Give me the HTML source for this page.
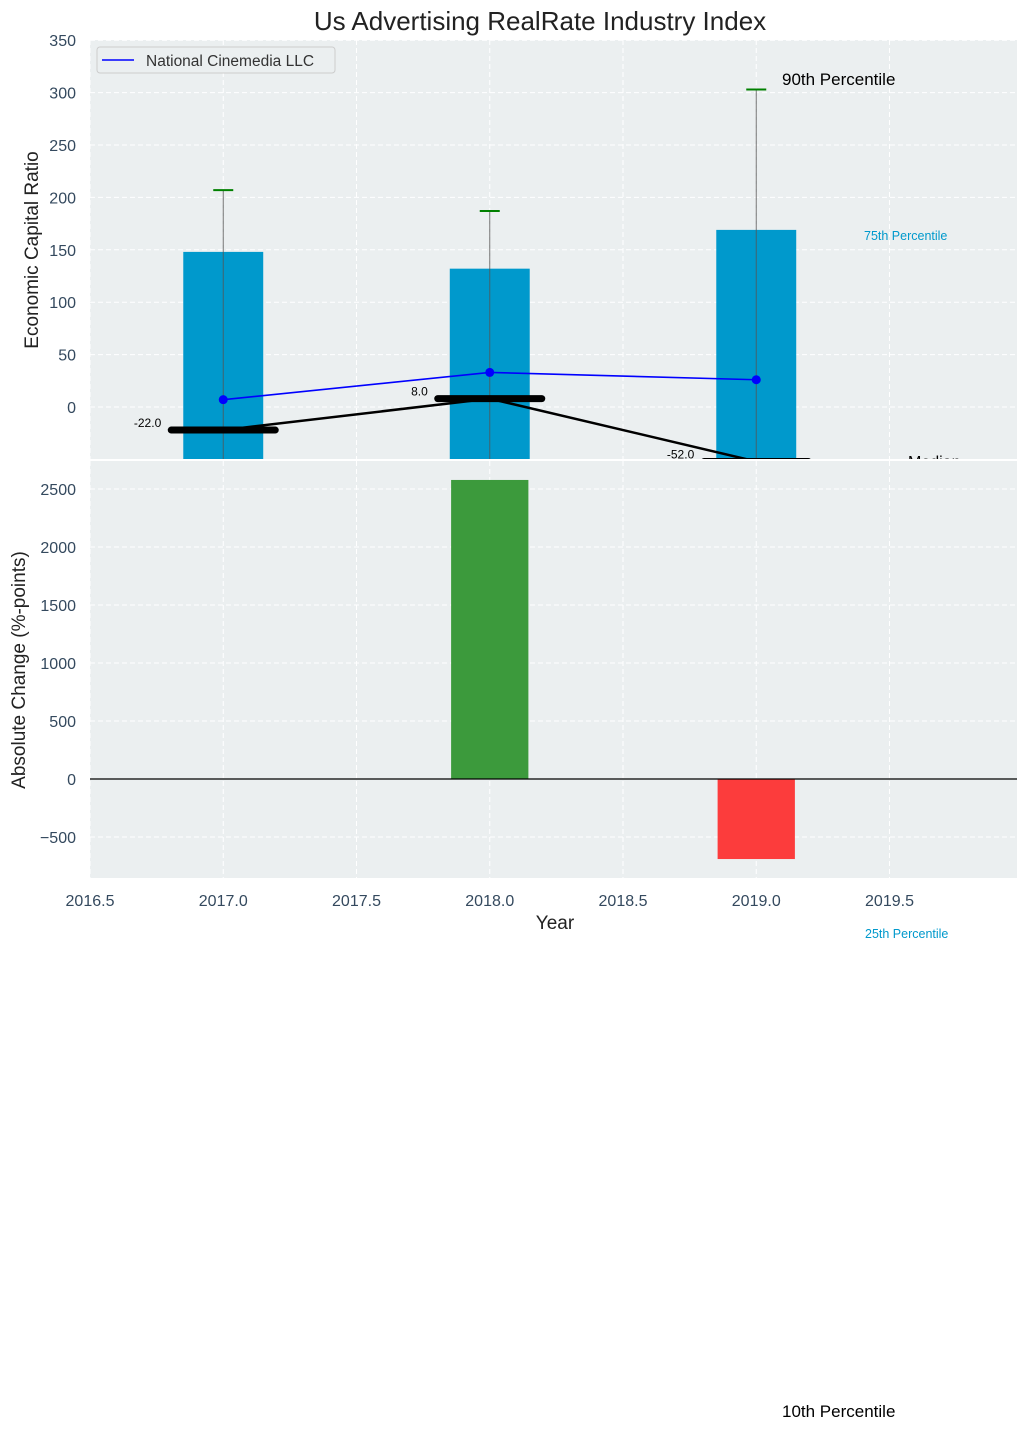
<!DOCTYPE html>
<html><head><meta charset="utf-8"><style>
body{margin:0;background:#fff}
svg{display:block;font-family:"Liberation Sans","DejaVu Sans",sans-serif}
</style></head><body>
<svg id="chart" width="1029" height="1430" xmlns="http://www.w3.org/2000/svg">
<defs>
<clipPath id="c1"><rect x="90" y="40" width="927" height="419"/></clipPath>
<clipPath id="c2"><rect x="90" y="461" width="927" height="417"/></clipPath>
</defs>
<text x="540" y="30" text-anchor="middle" font-size="26" fill="#222">Us Advertising RealRate Industry Index</text>
<rect x="90" y="40" width="927" height="419" fill="#ebeff0"/>
<rect x="90" y="461" width="927" height="417" fill="#ebeff0"/>
<g id="gTop"></g><g id="gBot"></g><g id="gAxes"></g>
</svg>
<script>
const years=[2017,2018,2019];
const barValues=[148,132,169];
const upperErr=[207,187,303];
const companyValues=[7,33,26];
const medianValues=[-22,8,-52];
const changeValues=[0,2578,-690];
const xTicks=[2016.5,2017.0,2017.5,2018.0,2018.5,2019.0,2019.5];
const yTicksTop=[0,50,100,150,200,250,300,350];
const yTicksBot=[-500,0,500,1000,1500,2000,2500];

const NS='http://www.w3.org/2000/svg';
const X=v=>90+(v-2016.5)*266.5;
const Y1=v=>407-v*52.4/50;
const Y2=v=>779-v*58/500;
function mk(p,tag,attrs,txt){const e=document.createElementNS(NS,tag);for(const k in attrs)e.setAttribute(k,attrs[k]);if(txt!==undefined)e.textContent=txt;p.appendChild(e);return e;}
const gT=document.getElementById('gTop'),gB=document.getElementById('gBot'),gA=document.getElementById('gAxes');
gT.setAttribute('clip-path','url(#c1)');gB.setAttribute('clip-path','url(#c2)');
xTicks.forEach(t=>{
 let g=mk(gT,'line',{x1:X(t),x2:X(t),y1:40,y2:459,stroke:'#fff','stroke-dasharray':'5,3','stroke-width':1});
 
 
 let g2=mk(gB,'line',{x1:X(t),x2:X(t),y1:461,y2:878,stroke:'#fff','stroke-dasharray':'5,3','stroke-width':1});
 
 
 let l=mk(gA,'text',{x:X(t),y:906,'text-anchor':'middle','font-size':16,fill:'#34495e'},t.toFixed(1));
 
 
});
yTicksTop.forEach(t=>{
 let g=mk(gT,'line',{x1:90,x2:1017,y1:Y1(t),y2:Y1(t),stroke:'#fff','stroke-dasharray':'5,3'});
 
 
 let l=mk(gA,'text',{x:76,y:Y1(t)+6,'text-anchor':'end','font-size':16,fill:'#34495e'},t);
 
 
});
yTicksBot.forEach(t=>{
 let g=mk(gB,'line',{x1:90,x2:1017,y1:Y2(t),y2:Y2(t),stroke:'#fff','stroke-dasharray':'5,3'});
 
 
 let l=mk(gA,'text',{x:76,y:Y2(t)+6,'text-anchor':'end','font-size':16,fill:'#34495e'},t<0?'\u2212'+(-t):t);
 
 
});
years.forEach((yr,i)=>{
 let b=mk(gT,'rect',{x:X(yr-0.15),y:Y1(barValues[i]),width:0.3*266.5,height:Y1(-60)-Y1(barValues[i]),fill:'#0099cc'});
 
 
 let e=mk(gT,'line',{x1:X(yr),x2:X(yr),y1:Y1(upperErr[i]),y2:470,stroke:'#555','stroke-width':1,opacity:0.8});
 
 
 let c=mk(gT,'line',{x1:X(yr)-10,x2:X(yr)+10,y1:Y1(upperErr[i]),y2:Y1(upperErr[i]),stroke:'green','stroke-width':2});
 
 
});
let mp=mk(gT,'polyline',{points:years.map((y,i)=>X(y)+','+Y1(medianValues[i])).join(' '),fill:'none',stroke:'#000','stroke-width':2.5});


years.forEach((yr,i)=>{
 let s=mk(gT,'line',{x1:X(yr)-52,x2:X(yr)+52,y1:Y1(medianValues[i]),y2:Y1(medianValues[i]),stroke:'#000','stroke-width':7,'stroke-linecap':'round'});
 
 
 let t=mk(gT,'text',{x:X(yr)-62,y:Y1(medianValues[i])-3,'text-anchor':'end','font-size':12,fill:'#000'},medianValues[i].toFixed(1));
 
 
});
let cp=mk(gT,'polyline',{points:years.map((y,i)=>X(y)+','+Y1(companyValues[i])).join(' '),fill:'none',stroke:'#0000ff','stroke-width':1.6});


years.forEach((yr,i)=>{
 let d=mk(gT,'circle',{cx:X(yr),cy:Y1(companyValues[i]),r:4.5,fill:'#0000ff'});
 
 
});
let md=mk(gT,'text',{x:908,y:467,'font-size':16,fill:'#000'},'Median');


years.forEach((yr,i)=>{
 const v=changeValues[i];
 let b=mk(gB,'rect',{x:X(yr-0.145),y:Math.min(Y2(v),Y2(0)),width:0.29*266.5,height:Math.abs(Y2(v)-Y2(0)),fill:v>=0?'#3c9a3c':'#fc3c3c'});
 
 
});
let zl=mk(gB,'line',{x1:90,x2:1017,y1:Y2(0),y2:Y2(0),stroke:'#000','stroke-width':1.2});


</script>
<svg style="position:absolute;left:0;top:0" width="1029" height="1430">
<g font-family="Liberation Sans, DejaVu Sans, sans-serif">
<rect x="97" y="47" width="238" height="26" rx="3" fill="#ebeff0" stroke="#ccc"/>
<line x1="102" y1="60" x2="134" y2="60" stroke="#0000ff" stroke-width="1.6"/>
<text x="146" y="66" font-size="15.5" fill="#333">National Cinemedia LLC</text>
<text x="782" y="85" font-size="17" fill="#000">90th Percentile</text>
<text x="864" y="240" font-size="12.5" fill="#0099cc">75th Percentile</text>
<text x="865" y="938" font-size="12.5" fill="#0099cc">25th Percentile</text>
<text x="782" y="1417" font-size="17" fill="#000">10th Percentile</text>
<text x="555" y="929" font-size="19" text-anchor="middle" fill="#222">Year</text>
<text transform="translate(38,250) rotate(-90)" font-size="19" text-anchor="middle" fill="#222">Economic Capital Ratio</text>
<text transform="translate(25,670) rotate(-90)" font-size="19" text-anchor="middle" fill="#222">Absolute Change (%-points)</text>
</g>
</svg>
</body></html>
